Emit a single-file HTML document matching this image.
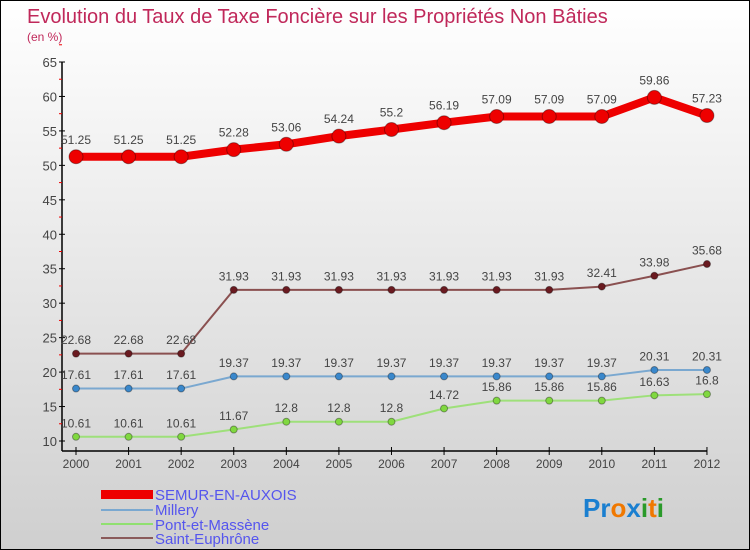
<!DOCTYPE html>
<html><head><meta charset="utf-8"><style>
body{margin:0}
#c{width:750px;height:550px;position:relative;overflow:hidden;box-sizing:border-box;border:1px solid #000;background:linear-gradient(#fff,#cfcfcf);font-family:"Liberation Sans",sans-serif}
</style></head><body>
<div id="c">
<svg width="750" height="550" style="position:absolute;left:0;top:0">
<text x="26" y="22" font-size="20" fill="#c0285a">Evolution du Taux de Taxe Foncière sur les Propriétés Non Bâties</text>
<text x="26" y="40" font-size="12" fill="#c0285a">(en %)</text>
<g id="axes"></g><g id="series"></g>
<g>
<rect x="100" y="489" width="52" height="9" fill="#e00"/>
<text x="154" y="499" font-size="15" fill="#5555ee">SEMUR-EN-AUXOIS</text>
<line x1="100" y1="509" x2="152" y2="509" stroke="#7aa8d0" stroke-width="2"/>
<text x="154" y="514" font-size="15" fill="#5555ee">Millery</text>
<line x1="100" y1="523" x2="152" y2="523" stroke="#90e070" stroke-width="2"/>
<text x="154" y="529" font-size="15" fill="#5555ee">Pont-et-Massène</text>
<line x1="100" y1="537" x2="152" y2="537" stroke="#8a5a5a" stroke-width="2"/>
<text x="154" y="543" font-size="15" fill="#5555ee">Saint-Euphrône</text>
</g>
<text x="582" y="516" font-size="26" font-weight="bold"><tspan fill="#1a7fd0">Pr</tspan><tspan fill="#f07800">o</tspan><tspan fill="#1a7fd0">x</tspan><tspan fill="#2a9a2a">i</tspan><tspan fill="#f07800">t</tspan><tspan fill="#2a9a2a">i</tspan></text>
</svg>
</div>
<script>
const years=[2000,2001,2002,2003,2004,2005,2006,2007,2008,2009,2010,2011,2012];
const semur=[51.25,51.25,51.25,52.28,53.06,54.24,55.2,56.19,57.09,57.09,57.09,59.86,57.23];
const millery=[17.61,17.61,17.61,19.37,19.37,19.37,19.37,19.37,19.37,19.37,19.37,20.31,20.31];
const pont=[10.61,10.61,10.61,11.67,12.8,12.8,12.8,14.72,15.86,15.86,15.86,16.63,16.8];
const saint=[22.68,22.68,22.68,31.93,31.93,31.93,31.93,31.93,31.93,31.93,32.41,33.98,35.68];
const yTicks=[10,15,20,25,30,35,40,45,50,55,60,65];
const NS="http://www.w3.org/2000/svg";
const xs=i=>75+i*52.58;
const ys=v=>440-(v-10)*(379/55);
function mk(t,a,p){const e=document.createElementNS(NS,t);for(const k in a)e.setAttribute(k,a[k]);p.appendChild(e);return e;}
const ax=document.getElementById('axes');
const yl=mk('line',{x1:61,y1:ys(65),x2:61,y2:450,stroke:'#000','stroke-width':1.5},ax);


const xl=mk('line',{x1:61,y1:450,x2:xs(12),y2:450,stroke:'#000','stroke-width':1.5},ax);


yTicks.forEach(v=>{
  mk('line',{x1:58,y1:ys(v),x2:64,y2:ys(v),stroke:'#000'},ax);
  mk('line',{x1:58,y1:ys(v+2.5),x2:61,y2:ys(v+2.5),stroke:'#e00'},ax);
  const t=mk('text',{x:56,y:ys(v)+5,'font-size':13,fill:'#444','text-anchor':'end'},ax);
  t.textContent=v;
  
  
});
years.forEach((y,i)=>{
  mk('line',{x1:xs(i),y1:446,x2:xs(i),y2:454,stroke:'#000'},ax);
  const t=mk('text',{x:xs(i),y:467,'font-size':12,fill:'#444','text-anchor':'middle'},ax);
  t.textContent=y;
  
  
});
const sg=document.getElementById('series');
function draw(vals,color,fill,w,r,name){
  const g=mk('g',{},sg);
  
  
  const pl=mk('polyline',{points:vals.map((v,i)=>xs(i)+','+ys(v)).join(' '),fill:'none',stroke:color,'stroke-width':w},g);
  
  
  vals.forEach((v,i)=>{
    const c=mk('circle',{cx:xs(i),cy:ys(v),r:r,fill:fill,stroke:'rgba(0,0,0,0.35)','stroke-width':1},g);
    
    
    const t=mk('text',{x:xs(i),y:ys(v)-(r+6),'font-size':12,fill:'#444','text-anchor':'middle'},g);
    t.textContent=v;
    
    
  });
}
draw(pont,'#9ee07a','#80d840',2,3.5,'pont-et-massene');
draw(millery,'#7aa8d0','#3a88cc',2,3.5,'millery');
draw(saint,'#8a5050','#6a1a20',2,3.5,'saint-euphrone');
draw(semur,'#e00','#e00',8,7,'semur-en-auxois');
</script>
</body></html>
